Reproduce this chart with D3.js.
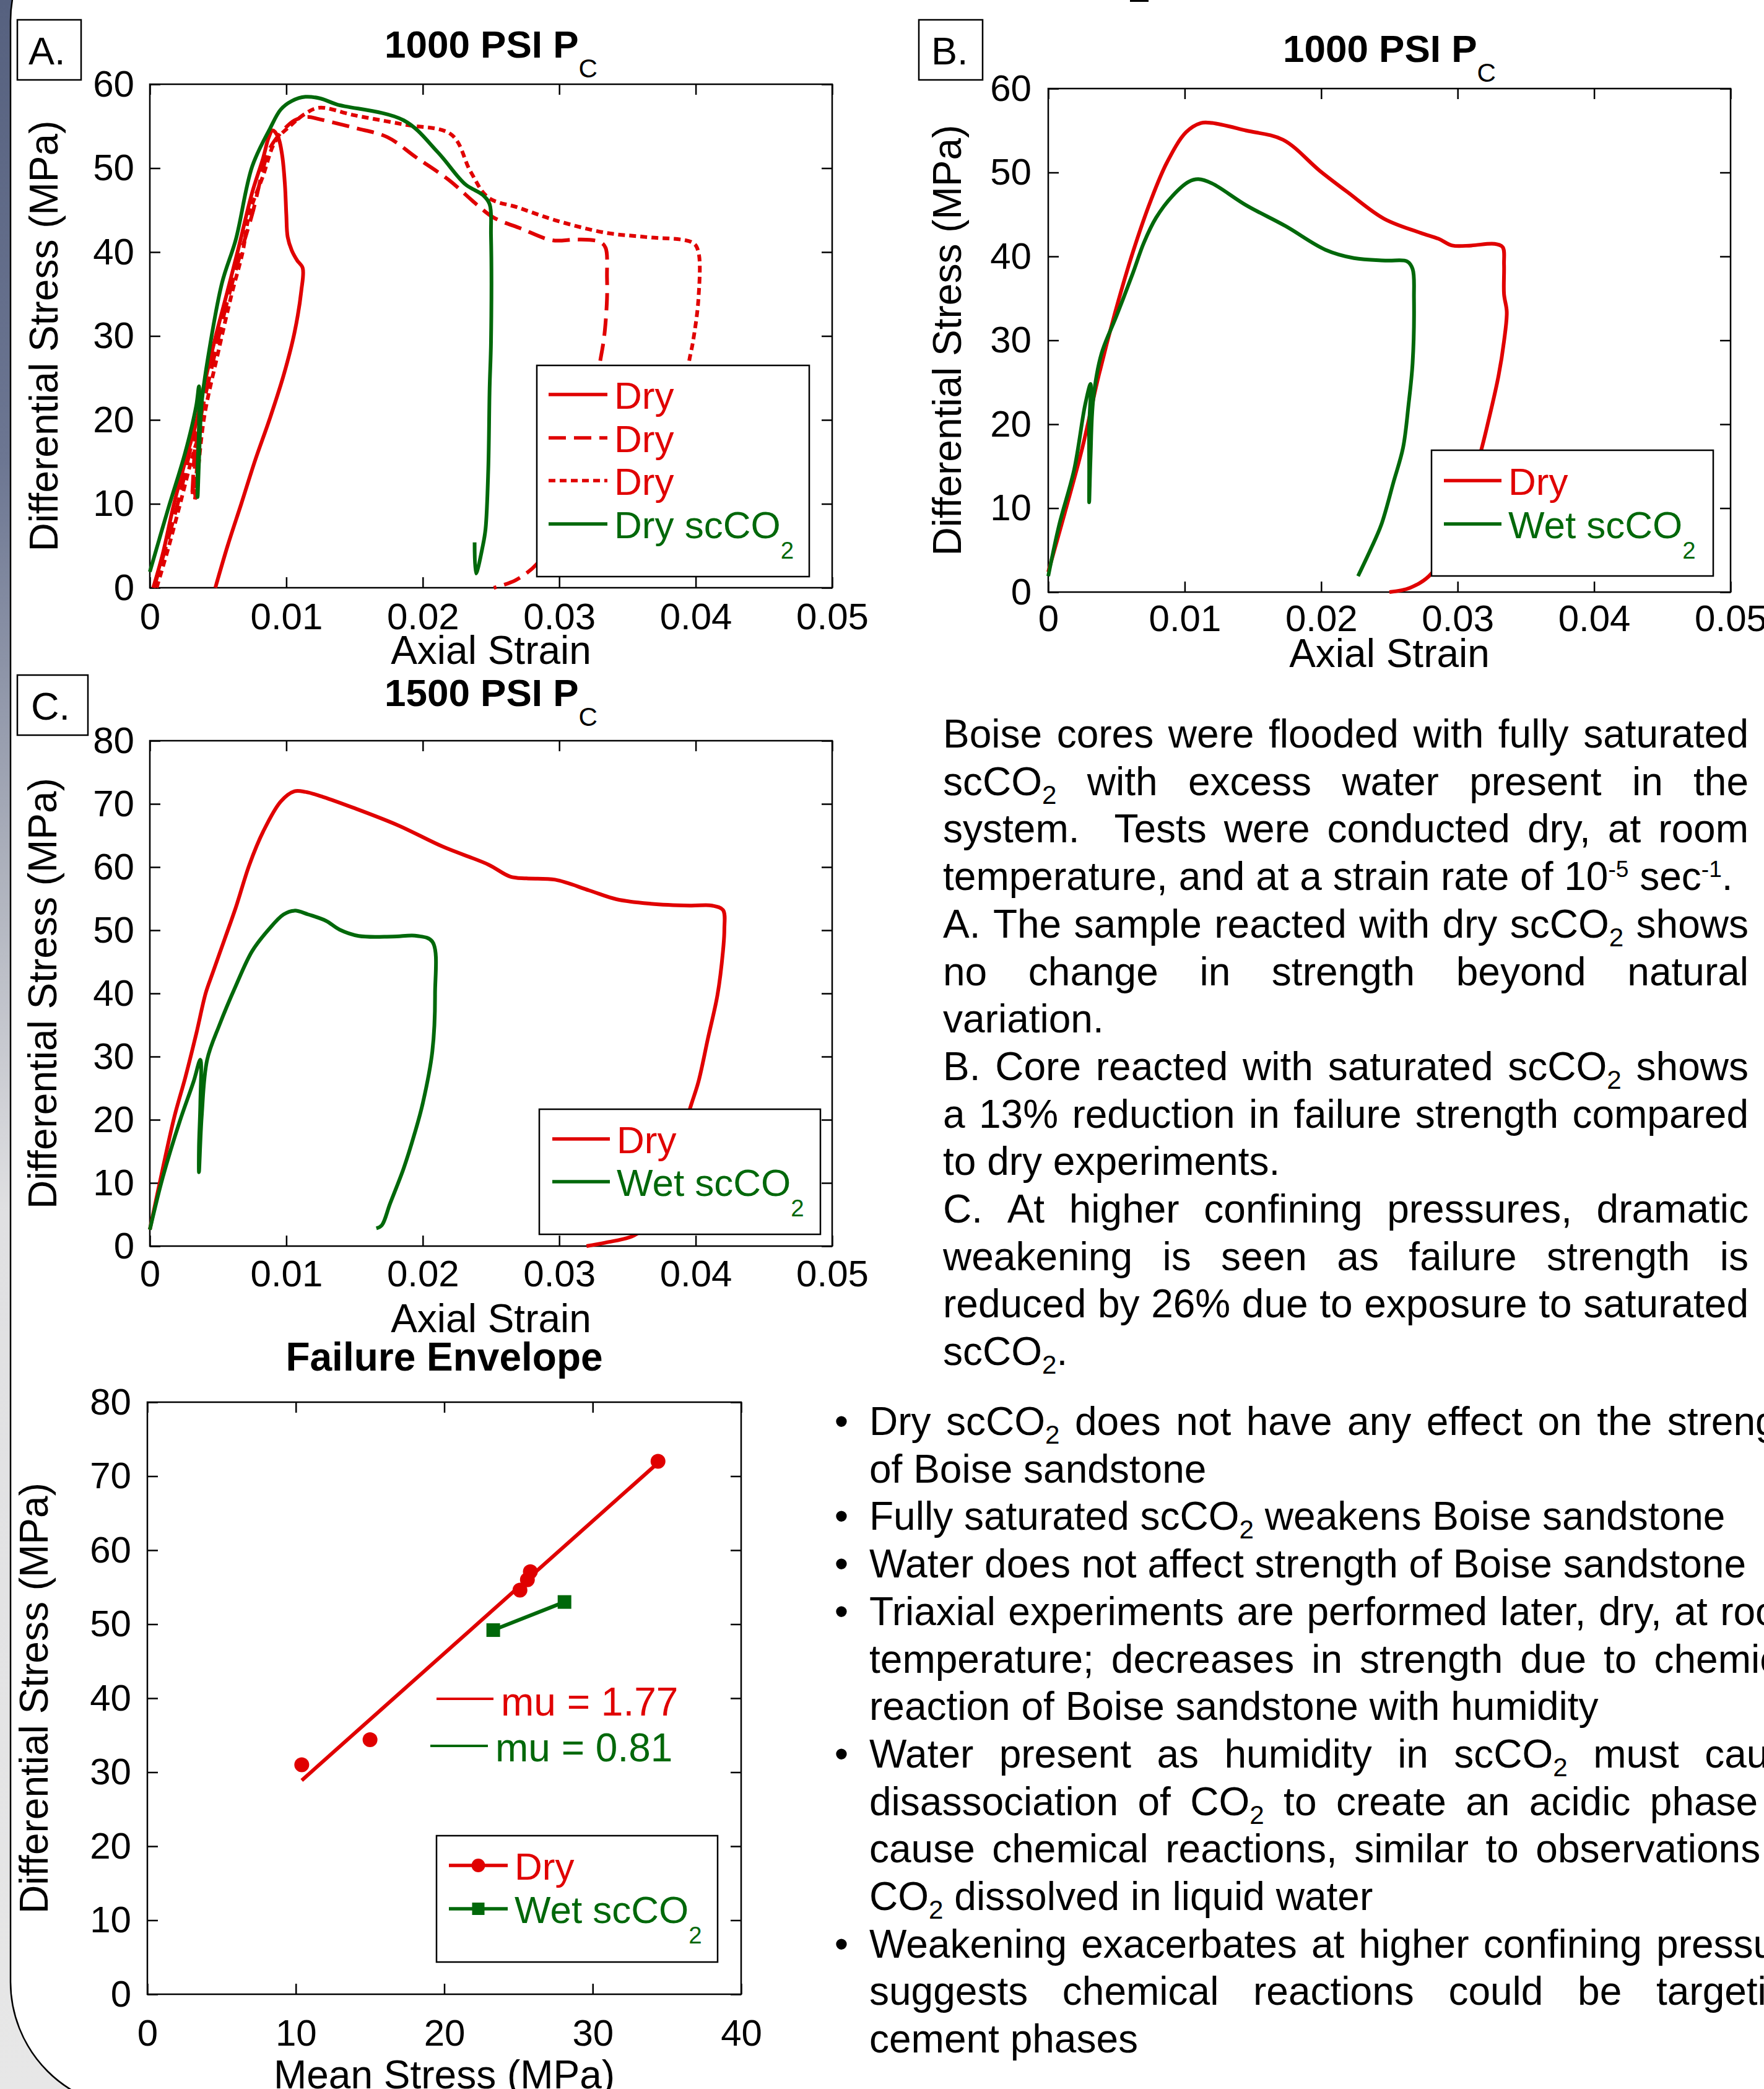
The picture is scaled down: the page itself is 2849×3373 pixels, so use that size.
<!DOCTYPE html>
<html>
<head>
<meta charset="utf-8">
<script src="https://cdn.jsdelivr.net/npm/d3@7"></script>
<style>
  html, body { margin: 0; padding: 0; background: #fff; }
  svg text { font-family: "Liberation Sans", Arial, Helvetica, sans-serif; }
</style>
</head>
<body>
<svg id="fig"></svg>
<script>
// ---------- data ----------
const strainTicks = [0, 0.01, 0.02, 0.03, 0.04, 0.05];
const strainLabels = ["0", "0.01", "0.02", "0.03", "0.04", "0.05"];
const stress60Ticks = [0, 10, 20, 30, 40, 50, 60];
const stress80Ticks = [0, 10, 20, 30, 40, 50, 60, 70, 80];
const meanTicks = [0, 10, 20, 30, 40];

// A. 1000 psi, [axial strain, differential stress MPa]
const aDry1 = [[0.00025,0],[0.00094,4],[0.00177,10],[0.0026,15.1],[0.0034,19.7],[0.004,24.3],[0.0048,29.8],[0.0057,35.4],[0.0065,40.5],[0.0075,47.1],[0.0083,51.2],[0.0087,53.6],[0.009,54.5],[0.0094,53.7],[0.0097,51.5],[0.0099,48],[0.01,44.5],[0.0101,41.8],[0.0104,40.2],[0.0108,39],[0.0112,38.1],[0.0111,35.4],[0.0106,30.4],[0.0098,25.3],[0.0088,20.2],[0.0077,15.1],[0.0067,10],[0.0057,5],[0.0048,0]];
const aDry2 = [[0.0003,0],[0.0012,5],[0.0022,11],[0.0029,16],[0.0033,18.5],[0.0032,14],[0.0031,10.8],[0.0033,14.5],[0.0037,20],[0.0045,26],[0.0055,33],[0.0065,39],[0.0075,44.5],[0.00875,52.2],[0.0096,54.2],[0.0106,55.7],[0.0115,56.1],[0.0125,55.8],[0.015,54.8],[0.0174,53.7],[0.0195,51.3],[0.0219,48.6],[0.024,45.6],[0.0252,44.1],[0.0272,42.8],[0.0295,41.4],[0.0313,41.5],[0.033,41.2],[0.0334,40.5],[0.0335,37],[0.0335,34.4],[0.0333,30],[0.033,27],[0.0322,20],[0.031,12],[0.0296,6],[0.0284,2.9],[0.0268,0.9],[0.0252,0]];
const aDry3 = [[0.0005,0],[0.0014,5],[0.0023,10.5],[0.0031,15.5],[0.0035,17.5],[0.0034,13],[0.0033,10.5],[0.0035,13.5],[0.004,20.5],[0.005,28],[0.006,35],[0.0068,40],[0.0073,44.6],[0.0083,49.1],[0.0092,53.2],[0.0104,55.2],[0.0114,56.5],[0.0124,57.2],[0.015,56.3],[0.0186,55.2],[0.0221,54],[0.0235,49.6],[0.0248,46.5],[0.027,45.3],[0.0297,43.8],[0.0334,42.3],[0.0363,41.8],[0.0398,41.1],[0.0402,40],[0.0402,34.4],[0.0398,29.3],[0.0395,26.8],[0.039,20],[0.038,12],[0.0366,5],[0.0355,2]];
const aScDry = [[0,1.9],[0.00136,9.5],[0.00259,16.1],[0.0034,21.7],[0.0036,24],[0.0036,19],[0.0035,14],[0.0035,10.8],[0.0036,15],[0.0038,22],[0.0043,27.8],[0.0053,36.4],[0.0063,41.5],[0.0075,50.2],[0.0088,54.7],[0.0096,57],[0.0104,58],[0.0114,58.5],[0.0125,58.3],[0.0137,57.6],[0.0186,55.7],[0.0211,51.9],[0.0231,48.1],[0.0244,46.8],[0.0249,45.7],[0.025,42],[0.025,29.3],[0.0249,23.8],[0.0248,14.1],[0.0246,7],[0.0244,5],[0.0239,1.7],[0.0238,5.4]];

// B. 1000 psi
const bDry = [[0,2.4],[0.00124,9.6],[0.0025,17.2],[0.0037,25.8],[0.005,33.9],[0.0062,40.5],[0.0075,46.6],[0.0087,51.2],[0.0101,54.8],[0.0112,55.9],[0.012,55.9],[0.0145,55],[0.0172,53.9],[0.0199,50.2],[0.0219,47.7],[0.0246,44.5],[0.0273,42.8],[0.0286,42.1],[0.0296,41.3],[0.031,41.3],[0.0327,41.5],[0.0333,41.1],[0.0334,39],[0.0334,35.5],[0.0336,33.4],[0.0334,29.9],[0.033,25.8],[0.0323,20.7],[0.0315,15.6],[0.0302,9.6],[0.029,4.5],[0.0279,1.9],[0.0265,0.5],[0.025,0]];
const bWet = [[0,1.9],[0.0008,8],[0.0019,14.6],[0.0027,22.3],[0.0031,24.8],[0.003,19.7],[0.003,14.6],[0.003,10.7],[0.0031,16],[0.0033,23],[0.0039,28.4],[0.005,32.9],[0.0062,38],[0.007,41.6],[0.0079,44.6],[0.0091,47.2],[0.0103,48.9],[0.011,49.2],[0.012,48.7],[0.0145,46.1],[0.0174,43.6],[0.0203,40.8],[0.0224,39.8],[0.0248,39.5],[0.0263,39.4],[0.0267,38.5],[0.0268,35],[0.0267,27.3],[0.0264,22.3],[0.026,17.2],[0.0253,13.1],[0.0244,8],[0.0236,5],[0.0227,1.9]];

// C. 1500 psi
const cDry = [[0,2.6],[0.00095,12.3],[0.0018,20.5],[0.0026,26.7],[0.0034,33.6],[0.0041,40.1],[0.0046,43.2],[0.0055,48.7],[0.0063,53.6],[0.0073,60.4],[0.0083,65.6],[0.0096,70.4],[0.0106,72],[0.0114,71.9],[0.0127,71.1],[0.0149,69.4],[0.0182,66.6],[0.0215,63.2],[0.0248,60.4],[0.0264,58.5],[0.0276,58.2],[0.0297,58],[0.0322,56.3],[0.0342,54.9],[0.0367,54.2],[0.0396,53.9],[0.0412,53.9],[0.042,53.2],[0.0421,50.1],[0.042,46.7],[0.0416,39.8],[0.0409,32.9],[0.0402,26],[0.0396,21.9],[0.0383,12.3],[0.0367,4],[0.0355,1.7],[0.0334,0.55],[0.032,0]];
const cWet = [[0,2.6],[0.00095,10.9],[0.0022,19.8],[0.0032,26],[0.0037,29.5],[0.0037,22.6],[0.0036,15.7],[0.0036,11.7],[0.0038,20.5],[0.0042,29.5],[0.0051,35],[0.0063,41.2],[0.0075,46.7],[0.0087,50.1],[0.0098,52.5],[0.0106,53.1],[0.0116,52.5],[0.0129,51.5],[0.0139,50.1],[0.0153,49.1],[0.0178,49],[0.0196,49.1],[0.0207,48.2],[0.0209,39.8],[0.0207,30.8],[0.02,22.6],[0.0194,17.8],[0.0186,12.3],[0.0176,6.7],[0.017,3.3],[0.0166,2.8]];

// failure envelope (MPa)
const envDryMean = [10.4, 15.0, 25.1, 25.6, 25.8, 34.4];
const envDryDiff = [31.0, 34.4, 54.6, 56.0, 57.1, 72.0];
const envWetMean = [23.3, 28.1];
const envWetDiff = [49.2, 53.0];
const fitDryMean = [10.4, 34.4];
const fitDryDiff = [28.9, 71.8];

// text
const notes = [
  ["Boise cores were flooded with fully saturated", true],
  ["scCO_{2} with excess water present in the", true],
  ["system.  Tests were conducted dry, at room", true],
  ["temperature, and at a strain rate of 10^{-5} sec^{-1}.", false],
  ["A. The sample reacted with dry scCO_{2} shows", true],
  ["no change in strength beyond natural", true],
  ["variation.", false],
  ["B. Core reacted with saturated scCO_{2} shows", true],
  ["a 13% reduction in failure strength compared", true],
  ["to dry experiments.", false],
  ["C. At higher confining pressures, dramatic", true],
  ["weakening is seen as failure strength is", true],
  ["reduced by 26% due to exposure to saturated", true],
  ["scCO_{2}.", false]
];
const bullets = [
  [true, "Dry scCO_{2} does not have any effect on the strength", true],
  [false, "of Boise sandstone", false],
  [true, "Fully saturated scCO_{2} weakens Boise sandstone", false],
  [true, "Water does not affect strength of Boise sandstone", false],
  [true, "Triaxial experiments are performed later, dry, at room", true],
  [false, "temperature; decreases in strength due to chemical", true],
  [false, "reaction of Boise sandstone with humidity", false],
  [true, "Water present as humidity in scCO_{2} must cause", true],
  [false, "disassociation of CO_{2} to create an acidic phase to", true],
  [false, "cause chemical reactions, similar to observations of", true],
  [false, "CO_{2} dissolved in liquid water", false],
  [true, "Weakening exacerbates at higher confining pressure", true],
  [false, "suggests chemical reactions could be targeting", true],
  [false, "cement phases", false]
];

// ---------- setup ----------
const W = 2849, H = 3373;
const RED = "#e00000", GREEN = "#00680a";
const TICK = 17;
const svg = d3.select("#fig").attr("width", W).attr("height", H);

const defs = svg.append("defs");
const grad = defs.append("linearGradient").attr("id", "edge")
  .attr("x1", 0).attr("y1", 0).attr("x2", 0).attr("y2", 1);
[[0, "#56617f"], [0.22, "#6c7692"], [0.42, "#aeb2bd"], [0.58, "#e0e0e2"], [1, "#e7e7e7"]]
  .forEach(s => grad.append("stop").attr("offset", s[0]).attr("stop-color", s[1]));
svg.append("rect").attr("width", W).attr("height", H).attr("fill", "url(#edge)");
svg.append("rect").attr("x", 17).attr("y", -170).attr("width", W + 400).attr("height", 3574)
  .attr("rx", 204).attr("fill", "#fff").attr("stroke", "#000").attr("stroke-width", 2.5);
svg.append("rect").attr("x", 1825).attr("y", 0).attr("width", 30).attr("height", 3).attr("fill", "#000");

// rich text: _{sub} and ^{sup}
function rich(parent, str, o) {
  const size = o.size;
  const t = parent.append("text")
    .attr("x", o.x).attr("y", o.y)
    .attr("font-size", size)
    .attr("fill", o.color || "#000")
    .attr("font-weight", o.weight || "normal")
    .attr("text-anchor", o.anchor || "start");
  if (o.transform) t.attr("transform", o.transform);
  let shift = 0;
  str.split(/(_\{[^}]*\}|\^\{[^}]*\})/).forEach(tok => {
    if (!tok) return;
    let target = 0, fs = size, txt = tok, fw = null;
    if (tok.startsWith("_{")) {
      target = (o.subShift || 0.22) * size; fs = (o.subScale || 0.66) * size; txt = tok.slice(2, -1); fw = "normal";
    } else if (tok.startsWith("^{")) {
      target = -(o.supShift || 0.33) * size; fs = (o.supScale || 0.58) * size; txt = tok.slice(2, -1);
    }
    const ts = t.append("tspan").attr("dy", target - shift).attr("font-size", fs).text(txt);
    if (fw) ts.attr("font-weight", fw);
    shift = target;
  });
  return t;
}

// justified / natural text lines
function textLine(x, y, str, right, justify, size) {
  if (!justify) { rich(svg, str, { x: x, y: y, size: size }); return; }
  const words = str.split(" ");
  const els = words.map(w => rich(svg, w, { x: 0, y: y, size: size }));
  const widths = els.map(e => e.node().getComputedTextLength());
  const gap = (right - x - d3.sum(widths)) / (words.length - 1);
  let cx = x;
  els.forEach((e, i) => { e.attr("x", cx); cx += widths[i] + gap; });
}

// ---------- panels ----------
function panel(p) {
  const g = svg.append("g");
  const x = d3.scaleLinear().domain(p.xDomain).range([p.left, p.right]);
  const y = d3.scaleLinear().domain(p.yDomain).range([p.bottom, p.top]);

  const styleAxis = sel => {
    sel.select(".domain").remove();
    sel.selectAll(".tick line").attr("stroke", "#000").attr("stroke-width", 2.5);
    sel.selectAll(".tick text").attr("fill", "#000").attr("font-size", p.tickSize || 60)
      .attr("font-family", '"Liberation Sans", Arial, sans-serif');
  };
  g.append("g").attr("transform", `translate(0,${p.bottom})`)
    .call(d3.axisBottom(x).tickValues(p.xTicks).tickFormat((d, i) => p.xLabels[i])
      .tickSizeInner(-TICK).tickSizeOuter(0).tickPadding(p.xPad)).call(styleAxis);
  g.append("g").attr("transform", `translate(0,${p.top})`)
    .call(d3.axisTop(x).tickValues(p.xTicks).tickFormat("").tickSizeInner(-TICK).tickSizeOuter(0)).call(styleAxis);
  g.append("g").attr("transform", `translate(${p.left},0)`)
    .call(d3.axisLeft(y).tickValues(p.yTicks).tickFormat(d3.format("d"))
      .tickSizeInner(-TICK).tickSizeOuter(0).tickPadding(p.yPad)).call(styleAxis);
  g.append("g").attr("transform", `translate(${p.right},0)`)
    .call(d3.axisRight(y).tickValues(p.yTicks).tickFormat("").tickSizeInner(-TICK).tickSizeOuter(0)).call(styleAxis);

  g.append("rect").attr("x", p.left).attr("y", p.top)
    .attr("width", p.right - p.left).attr("height", p.bottom - p.top)
    .attr("fill", "none").attr("stroke", "#000").attr("stroke-width", 2.5);

  const line = d3.line().x(d => x(d[0])).y(d => y(d[1])).curve(d3.curveCatmullRom.alpha(0.5));
  (p.series || []).forEach(s => {
    g.append("path").datum(s.data).attr("d", line)
      .attr("fill", "none").attr("stroke", s.color).attr("stroke-width", 6)
      .attr("stroke-linejoin", "round").attr("stroke-dasharray", s.dash || null);
  });
  if (p.extra) p.extra(g, x, y);

  // legend
  if (p.legend) {
    const L = p.legend;
    g.append("rect").attr("x", L.x0).attr("y", L.y0).attr("width", L.x1 - L.x0).attr("height", L.y1 - L.y0)
      .attr("fill", "#fff").attr("stroke", "#000").attr("stroke-width", 2.5);
    L.items.forEach((it, i) => {
      const yy = L.rows[i];
      g.append("line").attr("x1", L.lx0).attr("x2", L.lx1).attr("y1", yy).attr("y2", yy)
        .attr("stroke", it.color).attr("stroke-width", 5.5).attr("stroke-dasharray", it.dash || null);
      if (it.marker === "circle")
        g.append("circle").attr("cx", (L.lx0 + L.lx1) / 2).attr("cy", yy).attr("r", 11).attr("fill", it.color);
      if (it.marker === "square")
        g.append("rect").attr("x", (L.lx0 + L.lx1) / 2 - 10).attr("y", yy - 10).attr("width", 20).attr("height", 20).attr("fill", it.color);
      rich(g, it.label, { x: L.tx, y: yy + 23, size: 62, color: it.color, subShift: 0.53, subScale: 0.62 });
    });
  }

  // titles
  if (p.title) rich(g, p.title, { x: (p.left + p.right) / 2, y: p.titleY, size: p.titleSize || 62, weight: "bold",
    anchor: "middle", subShift: 0.52, subScale: 0.68 });
  rich(g, p.xTitle, { x: (p.left + p.right) / 2, y: p.xTitleY, size: p.xTitleSize || 64, anchor: "middle" });
  rich(g, p.yTitle, { x: 0, y: 0, size: 64, anchor: "middle",
    transform: `translate(${p.yTitleX},${(p.top + p.bottom) / 2}) rotate(-90)` }).attr("dy", "0.36em");

  if (p.tag) {
    g.append("rect").attr("x", p.tag.x0).attr("y", p.tag.y0).attr("width", p.tag.x1 - p.tag.x0)
      .attr("height", p.tag.y1 - p.tag.y0).attr("fill", "#fff").attr("stroke", "#000").attr("stroke-width", 2.5);
    g.append("text").attr("x", p.tag.tx).attr("y", p.tag.ty).attr("font-size", 63).text(p.tag.text);
  }
}

const strainAxes = { xDomain: [0, 0.05], xTicks: strainTicks, xLabels: strainLabels, xTitle: "Axial Strain",
  yTitle: "Differential Stress (MPa)", xPad: 24, yPad: 25 };

panel(Object.assign({}, strainAxes, {
  left: 242, right: 1344, top: 136, bottom: 949, yDomain: [0, 60], yTicks: stress60Ticks,
  title: "1000 PSI P_{C}", titleY: 93, xTitleY: 1072, yTitleX: 93,
  tag: { x0: 28, y0: 32, x1: 131, y1: 129, tx: 46, ty: 104, text: "A." },
  series: [
    { data: aDry1, color: RED },
    { data: aDry2, color: RED, dash: "28,13" },
    { data: aDry3, color: RED, dash: "11,7" },
    { data: aScDry, color: GREEN }
  ],
  legend: { x0: 867, y0: 590, x1: 1307, y1: 931, lx0: 886, lx1: 981, tx: 992, rows: [637, 707, 776, 846],
    items: [
      { label: "Dry", color: RED },
      { label: "Dry", color: RED, dash: "28,13" },
      { label: "Dry", color: RED, dash: "11,7" },
      { label: "Dry scCO_{2}", color: GREEN }
    ] }
}));

panel(Object.assign({}, strainAxes, {
  left: 1693, right: 2795, top: 143, bottom: 956, yDomain: [0, 60], yTicks: stress60Ticks,
  title: "1000 PSI P_{C}", titleY: 100, xTitleY: 1077, yTitleX: 1552, xPad: 20, yPad: 27,
  tag: { x0: 1484, y0: 32, x1: 1587, y1: 129, tx: 1504, ty: 104, text: "B." },
  series: [
    { data: bDry, color: RED },
    { data: bWet, color: GREEN }
  ],
  legend: { x0: 2312, y0: 727, x1: 2767, y1: 930, lx0: 2332, lx1: 2425, tx: 2436, rows: [776, 846],
    items: [
      { label: "Dry", color: RED },
      { label: "Wet scCO_{2}", color: GREEN }
    ] }
}));

panel(Object.assign({}, strainAxes, {
  left: 242, right: 1344, top: 1196, bottom: 2012, yDomain: [0, 80], yTicks: stress80Ticks,
  title: "1500 PSI P_{C}", titleY: 1140, xTitleY: 2151, yTitleX: 91, xPad: 22,
  tag: { x0: 28, y0: 1090, x1: 142, y1: 1187, tx: 50, ty: 1162, text: "C." },
  series: [
    { data: cDry, color: RED },
    { data: cWet, color: GREEN }
  ],
  legend: { x0: 871, y0: 1791, x1: 1325, y1: 1993, lx0: 892, lx1: 985, tx: 996, rows: [1839, 1908],
    items: [
      { label: "Dry", color: RED },
      { label: "Wet scCO_{2}", color: GREEN }
    ] }
}));

panel({
  left: 238, right: 1197, top: 2264, bottom: 3220,
  xDomain: [0, 40], yDomain: [0, 80], xTicks: meanTicks, xLabels: meanTicks.map(String), yTicks: stress80Ticks,
  xPad: 40, yPad: 26,
  title: "Failure Envelope", titleY: 2213, titleSize: 64,
  xTitle: "Mean Stress (MPa)", xTitleY: 3372, xTitleSize: 64,
  yTitle: "Differential Stress (MPa)", yTitleX: 77,
  extra: (g, x, y) => {
    const fit = fitDryMean.map((m, i) => [m, fitDryDiff[i]]);
    g.append("path").datum(fit).attr("d", d3.line().x(d => x(d[0])).y(d => y(d[1])))
      .attr("stroke", RED).attr("stroke-width", 6).attr("fill", "none");
    const wet = envWetMean.map((m, i) => [m, envWetDiff[i]]);
    g.append("path").datum(wet).attr("d", d3.line().x(d => x(d[0])).y(d => y(d[1])))
      .attr("stroke", GREEN).attr("stroke-width", 6).attr("fill", "none");
    g.selectAll(".dry").data(envDryMean).join("circle")
      .attr("cx", d => x(d)).attr("cy", (d, i) => y(envDryDiff[i])).attr("r", 12).attr("fill", RED);
    g.selectAll(".wet").data(envWetMean).join("rect")
      .attr("x", d => x(d) - 11).attr("y", (d, i) => y(envWetDiff[i]) - 11)
      .attr("width", 22).attr("height", 22).attr("fill", GREEN);
    // slope annotations
    g.append("line").attr("x1", 705).attr("x2", 797).attr("y1", 2743).attr("y2", 2743)
      .attr("stroke", RED).attr("stroke-width", 4);
    g.append("text").attr("x", 809).attr("y", 2770).attr("font-size", 64).attr("fill", RED).text("mu = 1.77");
    g.append("line").attr("x1", 695).attr("x2", 788).attr("y1", 2819).attr("y2", 2819)
      .attr("stroke", GREEN).attr("stroke-width", 4);
    g.append("text").attr("x", 800).attr("y", 2844).attr("font-size", 64).attr("fill", GREEN).text("mu = 0.81");
  },
  legend: { x0: 705, y0: 2964, x1: 1159, y1: 3168, lx0: 725, lx1: 820, tx: 831, rows: [3012, 3082],
    items: [
      { label: "Dry", color: RED, marker: "circle" },
      { label: "Wet scCO_{2}", color: GREEN, marker: "square" }
    ] }
});

// ---------- text blocks ----------
const LINE = 76.7;
notes.forEach((n, i) => textLine(1523, 1207 + i * LINE, n[0], 2824, n[1], 64));
bullets.forEach((b, i) => {
  const yy = 2317 + i * LINE;
  if (b[0]) svg.append("text").attr("x", 1359).attr("y", yy).attr("font-size", 64)
    .attr("text-anchor", "middle").text("\u2022");
  textLine(1404, yy, b[1], 2924, b[2], 64);
});
</script>
</body>
</html>
